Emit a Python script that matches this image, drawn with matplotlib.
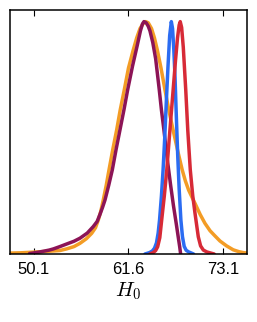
import matplotlib
matplotlib.use("Agg")
import matplotlib.pyplot as plt

plt.rcParams['font.family'] = ['Liberation Sans', 'DejaVu Sans']
plt.rcParams['mathtext.fontset'] = 'cm'

# Normalised posterior curves of H0
orange_x = [47.3, 48.44, 50.05, 51.5, 52.5, 53.29, 54.1, 55.0, 55.72, 56.5, 57.14, 57.6,
            57.94, 58.25, 58.54, 58.9, 59.24, 59.7, 60.17, 60.6, 61.09, 61.6, 62.18, 62.6,
            63.0, 63.35, 63.69, 64.0, 64.4, 64.75, 65.1, 65.55, 66.03, 66.55, 67.1, 67.6,
            68.12, 68.5, 68.9, 69.3, 69.67, 70.3, 70.88, 71.5, 72.09, 72.7, 73.5, 74.31,
            75.0, 75.53, 76.0]
orange_y = [0.004, 0.005, 0.008, 0.011, 0.013, 0.015, 0.022, 0.032, 0.046, 0.066, 0.089, 0.113,
            0.146, 0.185, 0.232, 0.295, 0.362, 0.45, 0.534, 0.62, 0.706, 0.80, 0.878, 0.93,
            0.97, 0.99, 1.0, 0.995, 0.97, 0.93, 0.878, 0.80, 0.706, 0.61, 0.52, 0.44,
            0.362, 0.315, 0.275, 0.245, 0.218, 0.17, 0.132, 0.10, 0.078, 0.056, 0.035, 0.018,
            0.01, 0.006, 0.004]

purple_x = [49.6, 50.0, 50.7, 51.3, 52.0, 52.5, 53.29, 54.1, 55.0, 55.72, 56.6, 57.33,
            57.8, 58.14, 58.45, 58.75, 59.2, 59.64, 60.1, 60.57, 61.05, 61.5, 62.1, 62.65,
            63.05, 63.3, 63.48, 63.75, 64.0, 64.21, 64.55, 64.9, 65.34, 65.6, 65.9, 66.3,
            66.7, 67.05, 67.4, 67.65, 67.82, 67.9, 67.93]
purple_y = [0.002, 0.004, 0.008, 0.012, 0.017, 0.022, 0.032, 0.043, 0.055, 0.068, 0.09, 0.118,
            0.14, 0.17, 0.20, 0.232, 0.295, 0.362, 0.45, 0.534, 0.62, 0.706, 0.81, 0.895,
            0.96, 0.99, 1.0, 0.995, 0.98, 0.96, 0.91, 0.84, 0.706, 0.62, 0.534, 0.41,
            0.30, 0.21, 0.13, 0.07, 0.03, 0.008, 0.0]

blue_x = [63.6, 64.15, 64.5, 64.76, 65.0, 65.2, 65.37, 65.6, 65.8, 66.0, 66.2, 66.4,
          66.6, 66.8, 66.95, 67.1, 67.25, 67.4, 67.58, 67.75, 67.96, 68.15, 68.36, 68.6,
          68.9, 69.17, 69.5]
blue_y = [0.0, 0.006, 0.013, 0.025, 0.048, 0.09, 0.146, 0.25, 0.362, 0.50, 0.66, 0.81,
          0.94, 1.0, 0.97, 0.88, 0.76, 0.60, 0.42, 0.28, 0.146, 0.075, 0.033, 0.016,
          0.009, 0.005, 0.0]

red_x = [64.2, 64.61, 64.9, 65.14, 65.4, 65.63, 65.95, 66.25, 66.6, 67.02, 67.3, 67.55,
         67.75, 67.88, 68.05, 68.25, 68.55, 68.8, 69.1, 69.4, 69.67, 70.07, 70.35, 70.68,
         71.1, 71.49, 72.0]
red_y = [0.0, 0.006, 0.015, 0.031, 0.07, 0.146, 0.25, 0.362, 0.52, 0.706, 0.83, 0.93,
         0.985, 1.0, 0.975, 0.89, 0.706, 0.53, 0.362, 0.25, 0.176, 0.074, 0.035, 0.017,
         0.009, 0.005, 0.0]

xticks = [50.1, 61.6, 73.1]
xtick_labels = ["50.1", "61.6", "73.1"]

fig = plt.figure(figsize=(2.57, 3.22), dpi=100)
ax = fig.add_axes([10/257, 68/322, 237/257, 244/322])

lw = 2.5
ax.plot(orange_x, orange_y, color='#f39c25', lw=lw, solid_capstyle='round', solid_joinstyle='round')
ax.plot(purple_x, purple_y, color='#8c1456', lw=lw, solid_capstyle='round', solid_joinstyle='round')
ax.plot(blue_x, blue_y, color='#2b6cf2', lw=lw, solid_capstyle='round', solid_joinstyle='round')
ax.plot(red_x, red_y, color='#d72a37', lw=lw, solid_capstyle='round', solid_joinstyle='round')

ax.set_xlim(47.23, 75.98)
ax.set_ylim(0, 1.05)
ax.set_yticks([])
ax.set_xticks(xticks)
ax.set_xticklabels(xtick_labels, fontsize=12)
ax.tick_params(axis='x', direction='in', top=True, bottom=True, length=4, width=0.8, pad=6)
for s in ax.spines.values():
    s.set_linewidth(1.1)
ax.set_xlabel(r'$H_0$', fontsize=15, labelpad=2)

fig.savefig('out.png', dpi=100)
